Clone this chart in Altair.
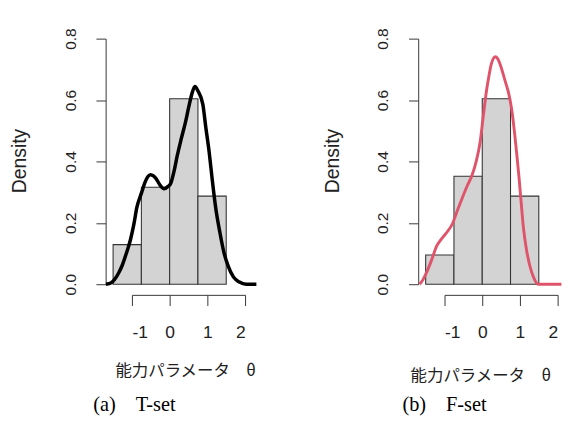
import altair as alt
import pandas as pd

# ---- data ----
bin_starts = [-1.5, -0.75, 0.0, 0.75]
bin_ends = [-0.75, 0.0, 0.75, 1.5]
t_hist = [0.129, 0.316, 0.604, 0.287]
f_hist = [0.095, 0.352, 0.604, 0.287]

t_curve_x = [-1.69, -1.55, -1.47, -1.36, -1.26, -1.15, -1.04, -0.95, -0.87, -0.74,
             -0.66, -0.58, -0.51, -0.43, -0.36, -0.25, -0.15, -0.05, 0.03, 0.12,
             0.20, 0.30, 0.41, 0.52, 0.60, 0.67, 0.75, 0.88, 0.96, 1.05,
             1.13, 1.22, 1.33, 1.44, 1.55, 1.69, 1.85, 2.03, 2.30]
t_curve_y = [0.0, 0.005, 0.014, 0.035, 0.061, 0.10, 0.145, 0.195, 0.25, 0.30,
             0.33, 0.350, 0.357, 0.353, 0.344, 0.322, 0.311, 0.318, 0.329, 0.37,
             0.418, 0.47, 0.523, 0.585, 0.625, 0.644, 0.63, 0.586, 0.51, 0.428,
             0.34, 0.25, 0.17, 0.103, 0.06, 0.024, 0.007, 0.0, 0.0]

f_curve_x = [-1.66, -1.57, -1.47, -1.34, -1.21, -1.08, -0.96, -0.79, -0.66, -0.53,
             -0.40, -0.27, -0.16, -0.06, 0.03, 0.11, 0.18, 0.24, 0.35, 0.43,
             0.50, 0.60, 0.71, 0.78, 0.84, 0.91, 0.97, 1.03, 1.09, 1.17,
             1.26, 1.37, 1.48, 2.10]
f_curve_y = [0.0, 0.015, 0.04, 0.08, 0.124, 0.148, 0.166, 0.197, 0.24, 0.281,
             0.32, 0.355, 0.40, 0.46, 0.55, 0.628, 0.68, 0.717, 0.741, 0.73,
             0.707, 0.665, 0.617, 0.57, 0.512, 0.43, 0.355, 0.27, 0.187, 0.115,
             0.061, 0.02, 0.0, 0.0]

x_ticks = [-1, 0, 1, 2]
y_ticks = [0.0, 0.2, 0.4, 0.6, 0.8]
x_title = "能力パラメータ\u3000θ"
y_title = "Density"
captions = ["(a)\u3000T-set", "(b)\u3000F-set"]
colors = ["#000000", "#DF536B"]

INK = "#222222"


def panel(hist, cx, cy, color, stroke_w, tx, ty, caption, cap_dx, cap_off):
    hist_df = pd.DataFrame({"start": bin_starts, "end": bin_ends, "density": hist})
    curve_df = pd.DataFrame({"theta": cx, "dens": cy, "order": list(range(len(cx)))})
    xscale = alt.Scale(domain=[-1, 2], nice=False, zero=False)
    yscale = alt.Scale(domain=[0, 0.8], nice=False, zero=False)
    x_axis = alt.Axis(
        values=x_ticks, labelExpr="'' + datum.value", title=x_title, grid=False,
        offset=11, tickSize=11, tickColor="#333333", domainColor="#333333",
        labelFont="Liberation Sans", labelFontSize=18, labelColor=INK, labelPadding=19,
        titleFont="Noto Sans CJK JP", titleFontSize=17, titleFontWeight="normal",
        titleColor=INK, titleX=tx, titleY=ty, titleAlign="center", titleBaseline="middle",
    )
    y_axis = alt.Axis(
        values=y_ticks, format=".1f", title=y_title, grid=False,
        offset=27.2, tickSize=10, tickColor="#333333", domainColor="#333333",
        labelFont="Liberation Sans", labelFontSize=16, labelColor=INK,
        labelAngle=270, labelAlign="center", labelBaseline="alphabetic", labelPadding=21.3,
        titleFont="Liberation Sans", titleFontSize=20, titleFontWeight="normal",
        titleColor=INK, titleX=-88.5, titleY=126, titleAngle=270,
        titleAlign="center", titleBaseline="middle",
    )
    bars = alt.Chart(hist_df).mark_bar(
        fill="#D3D3D3", stroke="#333333", strokeWidth=1.1
    ).encode(
        x=alt.X("start:Q", scale=xscale, axis=x_axis),
        x2="end:Q",
        y=alt.Y("density:Q", scale=yscale, axis=y_axis),
        y2=alt.datum(0),
    )
    line = alt.Chart(curve_df).mark_line(
        color=color, strokeWidth=stroke_w, interpolate="monotone"
    ).encode(
        x=alt.X("theta:Q", scale=xscale, axis=x_axis),
        y=alt.Y("dens:Q", scale=yscale, axis=y_axis),
        order="order:Q",
    )
    return alt.layer(bars, line).properties(
        width=117, height=254,
        title=alt.TitleParams(
            caption, orient="bottom", anchor="middle", frame="group",
            dx=cap_dx, offset=cap_off, font="Liberation Serif", fontSize=21,
            fontWeight="normal", color="black",
        ),
    )


left = panel(t_hist, t_curve_x, t_curve_y, colors[0], 3.6, 55, 78.4, captions[0], -56, 16.9)
right = panel(f_hist, f_curve_x, f_curve_y, colors[1], 3.0, 37, 83.4, captions[1], -58.5, 11.9)

chart = alt.hconcat(left, right, spacing=61.3).properties(
    padding={"left": 2.2, "top": 12.6, "right": 0, "bottom": 0},
    background="white",
).configure_view(stroke=None)

chart.save("out.html", embed_options={"renderer": "svg", "actions": False})
